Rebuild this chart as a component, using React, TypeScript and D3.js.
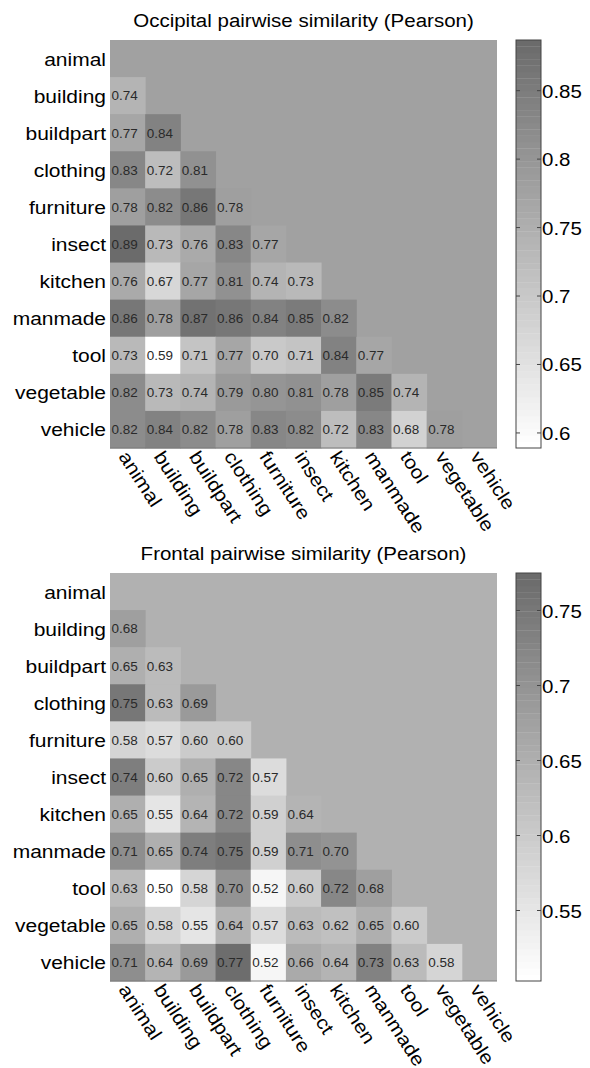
import React from "react";
import * as d3 from "d3";

const categories = ["animal", "building", "buildpart", "clothing", "furniture", "insect", "kitchen", "manmade", "tool", "vegetable", "vehicle"];

// lower-triangle values, row i holds columns 0..i-1
const occipitalValues: number[][] = [
  [],
  [0.74],
  [0.77, 0.84],
  [0.83, 0.72, 0.81],
  [0.78, 0.82, 0.86, 0.78],
  [0.89, 0.73, 0.76, 0.83, 0.77],
  [0.76, 0.67, 0.77, 0.81, 0.74, 0.73],
  [0.86, 0.78, 0.87, 0.86, 0.84, 0.85, 0.82],
  [0.73, 0.59, 0.71, 0.77, 0.70, 0.71, 0.84, 0.77],
  [0.82, 0.73, 0.74, 0.79, 0.80, 0.81, 0.78, 0.85, 0.74],
  [0.82, 0.84, 0.82, 0.78, 0.83, 0.82, 0.72, 0.83, 0.68, 0.78],
];

const frontalValues: number[][] = [
  [],
  [0.68],
  [0.65, 0.63],
  [0.75, 0.63, 0.69],
  [0.58, 0.57, 0.60, 0.60],
  [0.74, 0.60, 0.65, 0.72, 0.57],
  [0.65, 0.55, 0.64, 0.72, 0.59, 0.64],
  [0.71, 0.65, 0.74, 0.75, 0.59, 0.71, 0.70],
  [0.63, 0.50, 0.58, 0.70, 0.52, 0.60, 0.72, 0.68],
  [0.65, 0.58, 0.55, 0.64, 0.57, 0.63, 0.62, 0.65, 0.60],
  [0.71, 0.64, 0.69, 0.77, 0.52, 0.66, 0.64, 0.73, 0.63, 0.58],
];

const occipitalDomain: [number, number] = [0.589, 0.887];
const frontalDomain: [number, number] = [0.503, 0.775];
const occipitalBackground = 0.777;
const frontalBackground = 0.645;
const occipitalTicks = [0.6, 0.65, 0.7, 0.75, 0.8, 0.85];
const frontalTicks = [0.55, 0.6, 0.65, 0.7, 0.75];
const occipitalTitle = "Occipital pairwise similarity (Pearson)";
const frontalTitle = "Frontal pairwise similarity (Pearson)";

const FONT = "'Liberation Sans', Arial, Helvetica, sans-serif";
const LEVELS = 64;
const SY = 0.9; // glyphs in the reference are slightly squashed vertically

function makeColor(domain: [number, number]) {
  const [lo, hi] = domain;
  const gray = d3.scaleLinear().domain([0, LEVELS - 1]).range([255, 107]);
  return (v: number) => {
    let idx = Math.floor(((v - lo) / (hi - lo)) * LEVELS);
    idx = Math.max(0, Math.min(LEVELS - 1, idx));
    const g = Math.round(gray(idx));
    return `rgb(${g},${g},${g})`;
  };
}

function fmt(v: number) {
  return v.toFixed(2);
}

interface STextProps {
  x: number;
  y: number;
  rotate?: number;
  size: number;
  anchor?: "start" | "middle" | "end";
  fill?: string;
  baseline?: string;
  children: React.ReactNode;
}

function SText({ x, y, rotate = 0, size, anchor = "start", fill = "#000", baseline, children }: STextProps) {
  return (
    <text
      transform={`translate(${x},${y}) rotate(${rotate}) scale(1,${SY})`}
      textAnchor={anchor}
      fontSize={size}
      fontFamily={FONT}
      fill={fill}
      dominantBaseline={baseline}
    >
      {children}
    </text>
  );
}

interface PanelProps {
  top: number;
  title: string;
  values: number[][];
  domain: [number, number];
  background: number;
  ticks: number[];
}

function Panel({ top, title, values, domain, background, ticks }: PanelProps) {
  const left = 110;
  const width = 387;
  const height = 408;
  const x = d3.scaleBand<string>().domain(categories).range([left, left + width]);
  const y = d3.scaleBand<string>().domain(categories).range([top, top + height]);
  const color = makeColor(domain);
  const cbX = 516;
  const cbW = 25;
  const cbY = d3.scaleLinear().domain(domain).range([top + height, top]);
  const levelH = height / LEVELS;
  const levelScale = d3.scaleLinear().domain([0, LEVELS]).range(domain);

  return (
    <g>
      <SText x={left + width / 2} y={top - 13} anchor="middle" size={20.5}>
        {title}
      </SText>
      <rect x={left} y={top} width={width} height={height} fill={color(background)} />
      {values.map((row, i) =>
        row.map((v, j) => (
          <rect
            key={`c${i}-${j}`}
            x={x(categories[j])}
            y={y(categories[i])}
            width={x.bandwidth() + 0.5}
            height={y.bandwidth() + 0.5}
            fill={color(v)}
          />
        ))
      )}
      {values.map((row, i) =>
        row.map((v, j) => (
          <SText
            key={`t${i}-${j}`}
            x={(x(categories[j]) as number) + 1.5}
            y={(y(categories[i]) as number) + y.bandwidth() / 2 + 4.8}
            size={13.5}
            fill="#2a2a2a"
          >
            {fmt(v)}
          </SText>
        ))
      )}
      <line x1={left} x2={left + width} y1={top + height} y2={top + height} stroke="#7a7a7a" strokeWidth={1} />
      {categories.map((c) => (
        <SText key={`r${c}`} x={left - 4} y={(y(c) as number) + y.bandwidth() / 2 + 7} anchor="end" size={21}>
          {c}
        </SText>
      ))}
      {categories.map((c) => {
        const cx = (x(c) as number) + x.bandwidth() / 2 - 4;
        const cy = top + height + 5;
        return (
          <SText key={`x${c}`} x={cx} y={cy} rotate={57} baseline="central" size={21}>
            {c}
          </SText>
        );
      })}
      {d3.range(LEVELS).map((k) => (
        <rect
          key={`l${k}`}
          x={cbX}
          y={cbY(levelScale(k + 1))}
          width={cbW}
          height={levelH + 0.3}
          fill={color(levelScale(k + 0.5))}
        />
      ))}
      <rect x={cbX} y={top} width={cbW} height={height} fill="none" stroke="#444" strokeWidth={1} />
      {ticks.map((t) => (
        <g key={`k${t}`}>
          <line x1={cbX} x2={cbX + 4} y1={cbY(t)} y2={cbY(t)} stroke="#444" strokeWidth={1} />
          <line x1={cbX + cbW - 4} x2={cbX + cbW} y1={cbY(t)} y2={cbY(t)} stroke="#444" strokeWidth={1} />
          <SText x={cbX + cbW + 1} y={cbY(t) + 7} size={20.5}>
            {String(t)}
          </SText>
        </g>
      ))}
    </g>
  );
}

export default function App() {
  return (
    <svg
      width={590}
      height={1068}
      style={{ position: "absolute", left: 0, top: 0, background: "#fff" }}
    >
      <rect width={590} height={1068} fill="#fff" />
      <Panel top={40} title={occipitalTitle} values={occipitalValues} domain={occipitalDomain} background={occipitalBackground} ticks={occipitalTicks} />
      <Panel top={573} title={frontalTitle} values={frontalValues} domain={frontalDomain} background={frontalBackground} ticks={frontalTicks} />
    </svg>
  );
}
